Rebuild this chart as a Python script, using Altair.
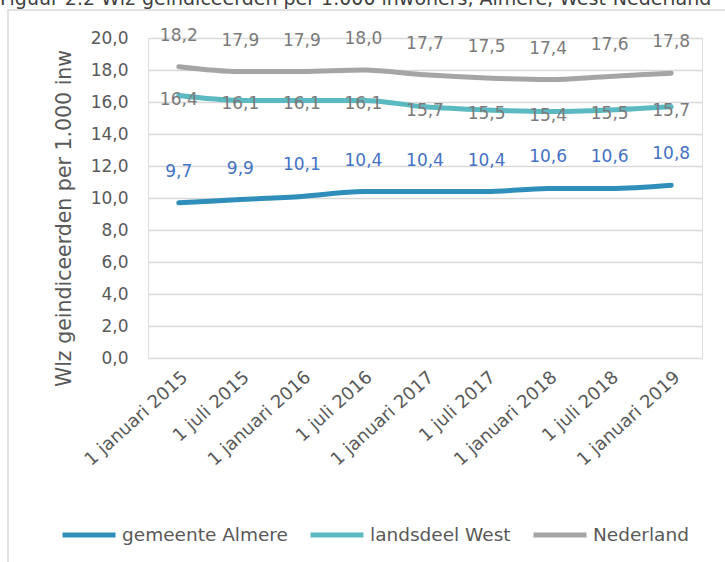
import altair as alt
import pandas as pd

dates = ["1 januari 2015", "1 juli 2015", "1 januari 2016", "1 juli 2016",
         "1 januari 2017", "1 juli 2017", "1 januari 2018", "1 juli 2018",
         "1 januari 2019"]
series_names = ["gemeente Almere", "landsdeel West", "Nederland"]
almere = [9.7, 9.9, 10.1, 10.4, 10.4, 10.4, 10.6, 10.6, 10.8]
west = [16.4, 16.1, 16.1, 16.1, 15.7, 15.5, 15.4, 15.5, 15.7]
nederland = [18.2, 17.9, 17.9, 18.0, 17.7, 17.5, 17.4, 17.6, 17.8]
y_ticks = [0, 2, 4, 6, 8, 10, 12, 14, 16, 18, 20]
line_colors = ["#2F8FBA", "#5BB9C2", "#A5A5A5"]

FONT = "DejaVu Sans"
title_text = "Figuur 2.2 Wlz-geïndiceerden per 1.000 inwoners, Almere, West-Nederland"

rows = []
for name, vals in zip(series_names, [almere, west, nederland]):
    for d, v in zip(dates, vals):
        rows.append({"datum": d, "reeks": name, "waarde": v})
df = pd.DataFrame(rows)

x_enc = alt.X("datum:N", sort=dates, title=None,
              axis=alt.Axis(labelAngle=-42, labelFontSize=18, labelColor="#595959",
                            labelFont=FONT, domain=False, ticks=False, grid=False,
                            labelPadding=10, labelLimit=300, labelOverlap=False))
y_enc = alt.Y("waarde:Q", scale=alt.Scale(domain=[0, 20], nice=False),
              title="Wlz geindiceerden per 1.000 inw",
              axis=alt.Axis(values=y_ticks,
                            labelExpr="replace(format(datum.value, '.1f'), '.', ',')",
                            labelFontSize=17, labelColor="#595959", labelFont=FONT,
                            labelPadding=20, labelOverlap=False, domain=False, ticks=False,
                            grid=True, gridColor="#D9D9D9", gridWidth=1.5,
                            titleFontSize=20.5, titleFont=FONT, titleColor="#595959",
                            titleFontWeight="normal", titlePadding=16, titleY=180))

base = alt.Chart(df)

lines = base.mark_line(strokeWidth=5, interpolate="monotone", strokeCap="round").encode(
    x=x_enc, y=y_enc,
    color=alt.Color("reeks:N", sort=series_names,
                    scale=alt.Scale(domain=series_names, range=line_colors),
                    legend=alt.Legend(title=None, orient="none", direction="horizontal",
                                      legendX=-88, legendY=468,
                                      symbolType="stroke", symbolSize=2809,
                                      symbolStrokeWidth=5, labelFontSize=18.5,
                                      labelFont=FONT, labelColor="#595959",
                                      labelLimit=400,
                                      columnPadding=12, labelOffset=4)),
)

labels_text = "replace(format(datum.waarde, '.1f'), '.', ',')"


def label_layer(name, color, dy):
    return base.transform_filter(alt.datum.reeks == name).transform_calculate(
        lab=labels_text).mark_text(fontSize=17, font=FONT, color=color, dy=dy).encode(
        x=x_enc, y=y_enc, text="lab:N")


lab_almere = label_layer("gemeente Almere", "#4472C4", -31)
lab_west = label_layer("landsdeel West", "#7A7A7A", 4)
lab_nl = label_layer("Nederland", "#7A7A7A", -31)

frame = alt.Chart(pd.DataFrame({"a": [0]})).mark_rect(
    fill="transparent", stroke="#D9D9D9", strokeWidth=1.5).encode(
    x=alt.value(-140), x2=alt.value(700), y=alt.value(-28), y2=alt.value(700))

title = alt.Chart(pd.DataFrame({"a": [0]})).mark_text(
    align="left", baseline="alphabetic", fontSize=19, font=FONT, color="#404040").encode(
    x=alt.value(-148), y=alt.value(-33), text=alt.value(title_text))

chart = alt.layer(frame, title, lines, lab_almere, lab_west, lab_nl).resolve_scale(
    color="independent").properties(
    width=554, height=320,
    padding={"left": 148, "top": 38, "right": 23, "bottom": 204},
    autosize=alt.AutoSizeParams(type="none"),
).configure_view(stroke=None).configure(background="white")

chart.save("out.html", embed_options={"renderer": "svg", "actions": False})
